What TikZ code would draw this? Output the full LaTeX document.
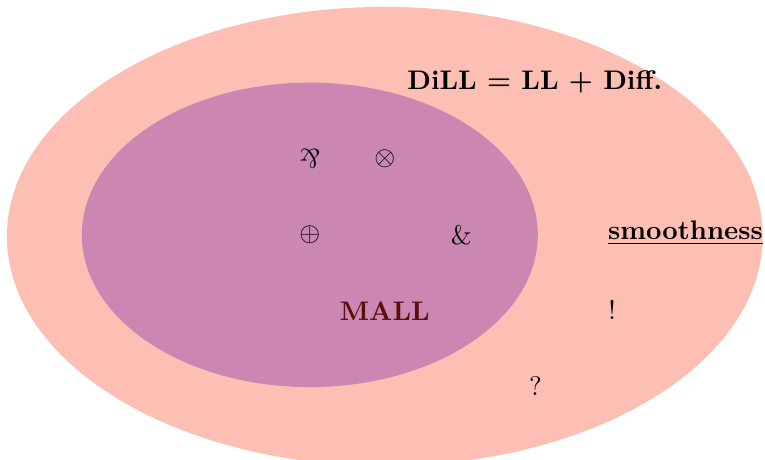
\documentclass[tikz,border=0pt]{standalone}
\usepackage{graphicx}
\definecolor{outerfill}{HTML}{FDBFB4}
\definecolor{innerfill}{HTML}{C987B2}
\definecolor{malltext}{HTML}{5A0F0F}
\begin{document}
\begin{tikzpicture}[lbl/.style={inner sep=2pt}]
\useasboundingbox (-4.05,-2.94) rectangle (5.95,3.07);
\fill[outerfill] (0.98,-0.02) ellipse [x radius=4.94, y radius=3];
\fill[innerfill] (0,0) ellipse [x radius=2.98, y radius=1.99];
\node[lbl] (par) at (0,1) {\rotatebox[origin=c]{180}{\&}};
\node[lbl] (tensor) at (0.98,1) {$\otimes$};
\node[lbl] (oplus) at (0,0) {$\oplus$};
\node[lbl] (with) at (1.98,0) {\&};
\node[lbl,text=malltext] (mall) at (0.98,-1) {\textbf{MALL}};
\node[lbl] (dill) at (2.94,2) {\textbf{DiLL = LL + Diff.}};
\node[lbl] (smooth) at (4.91,0.02) {\textbf{\underline{smoothness}}};
\node[lbl] (bang) at (3.95,-0.98) {!};
\node[lbl] (quest) at (2.95,-1.97) {?};
\end{tikzpicture}
\end{document}
